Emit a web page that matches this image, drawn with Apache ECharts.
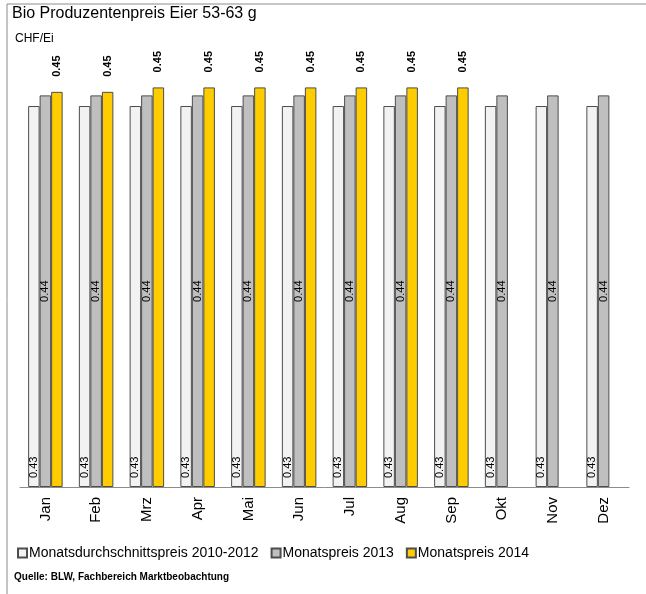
<!DOCTYPE html>
<html>
<head>
<meta charset="utf-8">
<script src="https://cdn.jsdelivr.net/npm/echarts@6/dist/echarts.min.js"></script>
<style>
  html, body { margin: 0; padding: 0; background: #fff; }
  #main { width: 646px; height: 594px; }
</style>
</head>
<body>
<div id="main"></div>
<script>
// Monate
var months = ['Jan', 'Feb', 'Mrz', 'Apr', 'Mai', 'Jun', 'Jul', 'Aug', 'Sep', 'Okt', 'Nov', 'Dez'];
// CHF/Ei
var avg2010_2012 = [0.430, 0.430, 0.430, 0.430, 0.430, 0.430, 0.430, 0.430, 0.430, 0.430, 0.430, 0.430];
var price2013 = [0.442, 0.442, 0.442, 0.442, 0.442, 0.442, 0.442, 0.442, 0.442, 0.442, 0.442, 0.442];
var price2014 = [0.446, 0.446, 0.451, 0.451, 0.451, 0.451, 0.451, 0.451, 0.451, null, null, null];

var chart = echarts.init(document.getElementById('main'));

function fmt(p) { return p.value == null ? '' : p.value.toFixed(2); }

var option = {
  animation: false,
  backgroundColor: '#fff',
  textStyle: { fontFamily: 'Liberation Sans, Arial, sans-serif' },
  graphic: [{
    type: 'rect',
    shape: { x: 7, y: 4, width: 645, height: 596 },
    style: { fill: 'none', stroke: '#8c8c8c', lineWidth: 1 }
  }],
  title: [
    { text: 'Bio Produzentenpreis Eier 53-63 g', left: 12, top: 6, padding: 0,
      textStyle: { fontSize: 16, fontWeight: 'normal', color: '#000' } },
    { text: 'CHF/Ei', left: 15, top: 33, padding: 0,
      textStyle: { fontSize: 12, fontWeight: 'normal', color: '#000' } },
    { text: 'Quelle: BLW, Fachbereich Marktbeobachtung', left: 14, top: 572, padding: 0,
      textStyle: { fontSize: 10, fontWeight: 'bold', color: '#000' } }
  ],
  legend: {
    left: 12, top: 541,
    icon: 'rect', itemWidth: 9, itemHeight: 9, itemGap: 12,
    textStyle: { fontSize: 14, color: '#000', padding: [0, 0, 0, -3] },
    data: ['Monatsdurchschnittspreis 2010-2012', 'Monatspreis 2013', 'Monatspreis 2014']
  },
  grid: { left: 20, right: 17, top: 44, bottom: 107 },
  xAxis: {
    type: 'category',
    data: months,
    axisLine: { lineStyle: { color: '#8c8c8c' } },
    axisTick: { length: 5, lineStyle: { color: '#8c8c8c' } },
    axisLabel: { rotate: 90, fontSize: 15, color: '#000', margin: 10 }
  },
  yAxis: {
    type: 'value', min: 0, max: 0.5, show: false, splitLine: { show: false }
  },
  series: [
    {
      name: 'Monatsdurchschnittspreis 2010-2012', type: 'bar',
      data: avg2010_2012, barGap: 0, barCategoryGap: '32%',
      itemStyle: { color: '#f2f2f2', borderColor: '#4d4d4d', borderWidth: 1 },
      label: { show: true, position: 'insideBottom', rotate: 90, align: 'left',
        verticalAlign: 'middle', distance: 9, fontSize: 11, color: '#000', formatter: fmt }
    },
    {
      name: 'Monatspreis 2013', type: 'bar',
      data: price2013,
      itemStyle: { color: '#bfbfbf', borderColor: '#4d4d4d', borderWidth: 1 },
      label: { show: true, position: 'inside', rotate: 90, fontSize: 11, color: '#000', formatter: fmt }
    },
    {
      name: 'Monatspreis 2014', type: 'bar',
      data: price2014,
      itemStyle: { color: '#ffcc00', borderColor: '#4d4d4d', borderWidth: 1 },
      label: { show: true, position: 'top', rotate: 90, align: 'left',
        verticalAlign: 'middle', distance: 15, fontSize: 11, fontWeight: 'bold', color: '#000', formatter: fmt }
    }
  ]
};

chart.setOption(option);
</script>
</body>
</html>
